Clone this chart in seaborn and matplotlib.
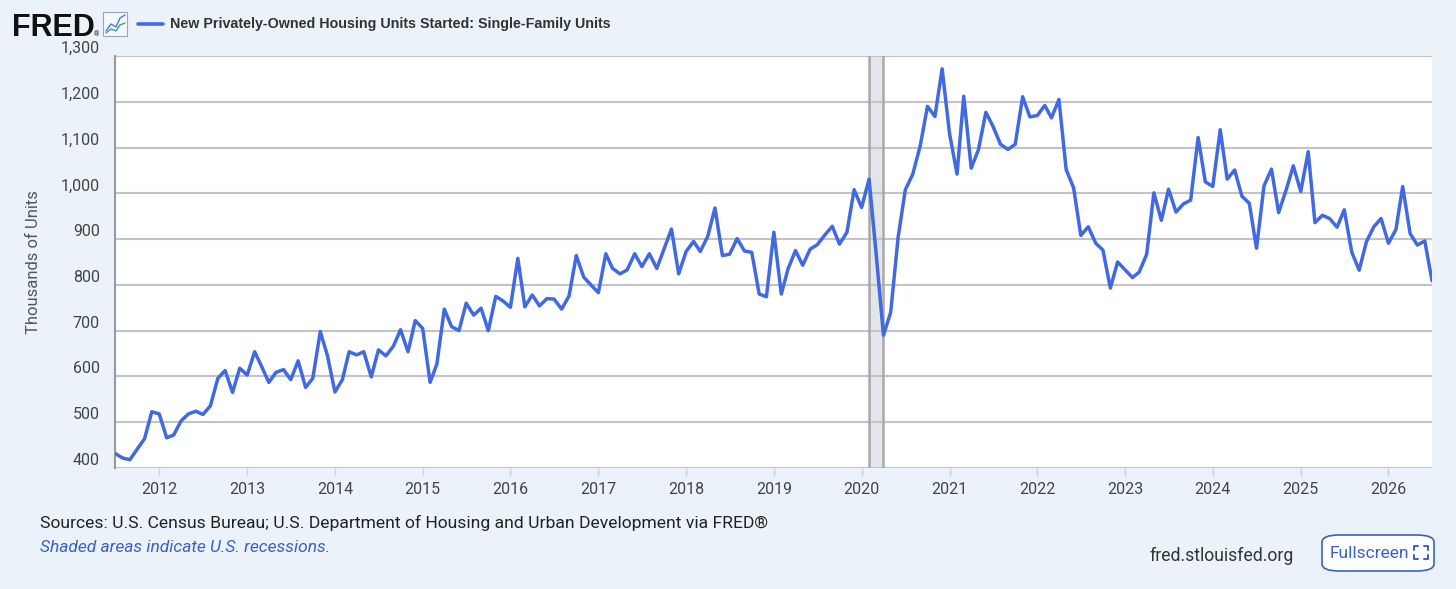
import matplotlib
matplotlib.use("Agg")
import matplotlib.pyplot as plt
from matplotlib.lines import Line2D
from matplotlib.patches import FancyBboxPatch, Rectangle
import matplotlib.ticker as mticker
import numpy as np
import pandas as pd
import seaborn as sns

# monthly single-family starts, thousands of units
START = "2011-07-01"
starts_2011 = [432, 422, 418, 441, 464, 523]
starts_2012 = [518, 466, 472, 503, 518, 524, 517, 536, 596, 613, 565, 618]
starts_2013 = [603, 654, 623, 587, 609, 615, 593, 634, 576, 596, 698, 645]
starts_2014 = [566, 593, 654, 647, 654, 599, 658, 645, 666, 702, 654, 722]
starts_2015 = [705, 587, 627, 747, 709, 700, 760, 734, 749, 700, 775, 765]
starts_2016 = [751, 858, 752, 778, 754, 770, 769, 747, 776, 864, 817, 800]
starts_2017 = [783, 868, 836, 824, 833, 868, 840, 868, 836, 878, 922, 824]
starts_2018 = [873, 895, 873, 906, 968, 864, 867, 901, 874, 871, 780, 774]
starts_2019 = [915, 780, 835, 875, 843, 878, 888, 909, 928, 889, 915, 1008]
starts_2020 = [969, 1031, 871, 690, 740, 904, 1008, 1042, 1104, 1190, 1168, 1272]
starts_2021 = [1130, 1042, 1212, 1055, 1095, 1177, 1146, 1107, 1096, 1107, 1211, 1167]
starts_2022 = [1170, 1192, 1165, 1205, 1052, 1012, 908, 927, 891, 876, 793, 850]
starts_2023 = [833, 816, 828, 867, 1001, 941, 1009, 959, 977, 985, 1122, 1025]
starts_2024 = [1015, 1139, 1031, 1051, 994, 978, 880, 1016, 1053, 958, 1007, 1060]
starts_2025 = [1004, 1091, 936, 952, 945, 926, 964, 872, 832, 894, 927, 945]
starts_2026 = [891, 921, 1015, 912, 887, 896, 809]

recession_start = "2020-02-01"
recession_end = "2020-04-01"
year_ticks = list(range(2012, 2027))
y_ticks = list(range(400, 1301, 100))

values = (starts_2011 + starts_2012 + starts_2013 + starts_2014 + starts_2015
          + starts_2016 + starts_2017 + starts_2018 + starts_2019 + starts_2020
          + starts_2021 + starts_2022 + starts_2023 + starts_2024 + starts_2025
          + starts_2026)
df = pd.DataFrame({
    "date": pd.date_range(START, periods=len(values), freq="MS"),
    "units": values,
})

BG = "#ebf2fa"
LINE = "#4169e1"
GRID = "#c3c3c3"
TXT = "#333333"
LINK = "#3a5fc8"

sns.set_theme(style="whitegrid")
plt.rcParams["font.family"] = ["Roboto", "DejaVu Sans"]

fig = plt.figure(figsize=(14.56, 5.89), dpi=100, facecolor=BG)
ax = fig.add_axes([115 / 1456, 1 - 468 / 589, 1317 / 1456, 412 / 589])
ax.set_facecolor("white")

ax.axvspan(pd.Timestamp(recession_start), pd.Timestamp(recession_end),
           color="#e2e5ea", zorder=0.5, lw=0)
for d in (recession_start, recession_end):
    ax.axvline(pd.Timestamp(d), color="#a9a9a9", lw=1.8, zorder=0.6)

sns.lineplot(data=df, x="date", y="units", ax=ax, color=LINE, lw=2.5, zorder=3)

ax.set_xlim(df["date"].iloc[0], df["date"].iloc[-1])
ax.set_ylim(400, 1300)
ax.set_yticks(y_ticks)
ax.yaxis.set_major_formatter(mticker.FuncFormatter(lambda v, _: f"{int(v):,}"))
ax.set_xticks([pd.Timestamp(f"{y}-01-01") for y in year_ticks])
ax.set_xticklabels([str(y) for y in year_ticks])

ax.grid(axis="y", color=GRID, lw=1.5)
ax.grid(axis="x", visible=False)
for side in ("top", "right", "bottom"):
    ax.spines[side].set_visible(False)
ax.spines["left"].set_color("#9a9a9a")
ax.spines["left"].set_linewidth(1.5)

ax.tick_params(axis="y", length=0, labelsize=11.5, labelcolor="#444444", pad=11)
ax.tick_params(axis="x", length=6, width=1, color="#c8d3e0", direction="out",
               labelsize=11.5, labelcolor="#444444", pad=4, bottom=True)
ax.set_xlabel("")
ax.set_ylabel("Thousands of Units", fontsize=12, color="#555555", labelpad=14)
for lbl in ax.get_yticklabels():
    lbl.set_va("bottom")

# header: FRED logo, small icon, legend entry
fig.text(12 / 1456, 1 - 36 / 589, "FRED", fontsize=22, fontweight="bold",
         color="#111111", family=["Liberation Sans", "DejaVu Sans"])
fig.text(94 / 1456, 1 - 36 / 589, "®", fontsize=5, color="#111111")
fig.add_artist(Rectangle((103 / 1456, 1 - 36 / 589), 24 / 1456, 24 / 589,
                         transform=fig.transFigure, facecolor="#f4f7fb",
                         edgecolor="#9aa7b8", lw=0.8))
fig.add_artist(Line2D(np.array([106, 111, 116, 120, 125]) / 1456,
                      1 - np.array([31, 24, 27, 18, 15]) / 589,
                      color="#4a7bd6", lw=1, transform=fig.transFigure))
fig.add_artist(Line2D(np.array([106, 111, 116, 120, 125]) / 1456,
                      1 - np.array([33, 29, 31, 25, 23]) / 589,
                      color="#3aa57a", lw=1, transform=fig.transFigure))
fig.add_artist(Line2D([138 / 1456, 163 / 1456], [1 - 24 / 589, 1 - 24 / 589],
                      color=LINE, lw=2.6, transform=fig.transFigure))
fig.text(170 / 1456, 1 - 24 / 589,
         "New Privately-Owned Housing Units Started: Single-Family Units",
         fontsize=10.3, color=TXT, va="center", fontweight="bold",
         family=["Liberation Sans", "DejaVu Sans"])

# footer
fig.text(40 / 1456, 1 - 523 / 589,
         "Sources: U.S. Census Bureau; U.S. Department of Housing and Urban "
         "Development via FRED®", fontsize=12.6, color="#222222", va="center")
fig.text(40 / 1456, 1 - 548 / 589, "Shaded areas indicate U.S. recessions.",
         fontsize=12.5, color=LINK, style="italic", va="center")
fig.text(1294 / 1456, 1 - 556 / 589, "fred.stlouisfed.org", fontsize=12.7,
         color="#333333", ha="right", va="center")
fig.add_artist(FancyBboxPatch((1322 / 1456, 1 - 571 / 589), 112 / 1456, 36 / 589,
                              boxstyle="round,pad=0,rounding_size=0.012",
                              transform=fig.transFigure, facecolor="white",
                              edgecolor=LINK, lw=1.2))
fig.text(1330 / 1456, 1 - 553 / 589, "Fullscreen", fontsize=12.5,
         color=LINK, va="center")
# corner brackets of the fullscreen glyph
for cx, cy, dx, dy in [(1414, 546, 1, 1), (1428, 546, -1, 1),
                       (1414, 559, 1, -1), (1428, 559, -1, -1)]:
    fig.add_artist(Line2D([cx / 1456, cx / 1456, (cx + 4 * dx) / 1456],
                          [1 - (cy + 4 * dy) / 589, 1 - cy / 589, 1 - cy / 589],
                          color=LINK, lw=1.4, transform=fig.transFigure))

fig.savefig("out.png", dpi=100, facecolor=BG)
